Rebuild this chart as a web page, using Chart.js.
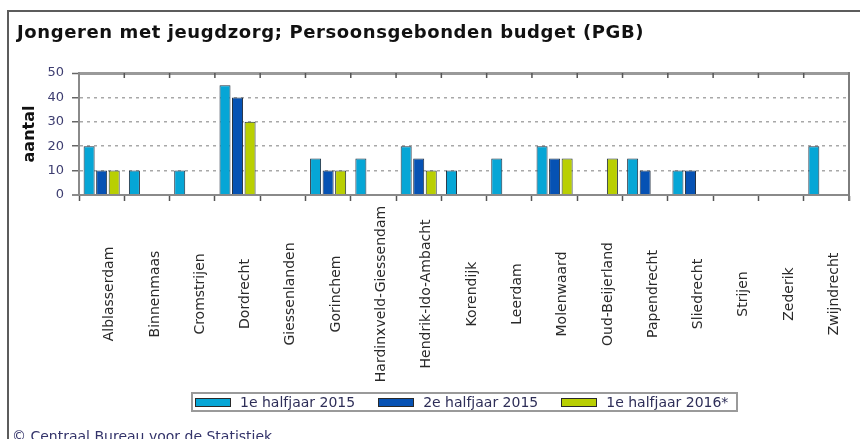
<!DOCTYPE html>
<html lang="nl">
<head>
<meta charset="utf-8">
<title>Jongeren met jeugdzorg; PGB</title>
<script src="https://cdn.jsdelivr.net/npm/chart.js@4/dist/chart.umd.min.js"></script>
<style>
  html, body { margin: 0; padding: 0; background: #fff; }
  body { width: 860px; height: 439px; overflow: hidden; position: relative; font-family: "DejaVu Sans", sans-serif; }
  #c { position: absolute; left: 0; top: 0; }
  .frame { position: absolute; left: 7px; top: 10px; right: -4px; bottom: -4px; border-top: 2px solid #5c5c5c; border-left: 2px solid #5c5c5c; }
  .title { position: absolute; left: 17px; top: 23px; font: bold 18px/18px "DejaVu Sans", sans-serif; letter-spacing: 0.6px; color: #111; white-space: nowrap; }
  .legend { position: absolute; left: 191px; top: 392px; width: 543px; height: 16px; border: 2px solid #9a9a9a; display: flex; align-items: center; box-sizing: content-box; }
  .legend .item { display: flex; align-items: center; margin-left: 2px; margin-right: 21px; }
  .legend .item:last-child { margin-right: 0; }
  .legend .sw { width: 34px; height: 7px; border: 1px solid #2a2a2a; margin-right: 9px; }
  .legend .lbl { font: 14px/16px "DejaVu Sans", sans-serif; color: #2e2e58; white-space: nowrap; }
  .footer { position: absolute; left: 12px; top: 428px; font: 14px/16px "DejaVu Sans", sans-serif; color: #33336a; white-space: nowrap; }
</style>
</head>
<body>
<canvas id="c" width="860" height="439"></canvas>
<div class="frame"></div>
<div class="title">Jongeren met jeugdzorg; Persoonsgebonden budget (PGB)</div>
<div class="legend" id="legend"></div>
<div class="footer">© Centraal Bureau voor de Statistiek.</div>
<script>
  /* ── data ── */
  const categories = [
    'Alblasserdam', 'Binnenmaas', 'Cromstrijen', 'Dordrecht', 'Giessenlanden',
    'Gorinchem', 'Hardinxveld-Giessendam', 'Hendrik-Ido-Ambacht', 'Korendijk',
    'Leerdam', 'Molenwaard', 'Oud-Beijerland', 'Papendrecht', 'Sliedrecht',
    'Strijen', 'Zederik', 'Zwijndrecht'
  ];
  const seriesNames = ['1e halfjaar 2015', '2e halfjaar 2015', '1e halfjaar 2016*'];
  const halfjaar1_2015 = [20, 10, 10, 45, null, 15, 15, 20, 10, 15, 20, null, 15, 10, null, null, 20];
  const halfjaar2_2015 = [10, null, null, 40, null, 10, null, 15, null, null, 15, null, 10, 10, null, null, null];
  const halfjaar1_2016 = [10, null, null, 30, null, 10, null, 10, null, null, 15, 15, null, null, null, null, null];
  const yTicks = [0, 10, 20, 30, 40, 50];

  const seriesColors = ['#06a6d6', '#0652b4', '#b9cf02'];
  const seriesData = [halfjaar1_2015, halfjaar2_2015, halfjaar1_2016];

  /* ── html legend ── */
  const legendEl = document.getElementById('legend');
  seriesNames.forEach((name, i) => {
    const item = document.createElement('div');
    item.className = 'item';
    item.innerHTML = `<span class="sw" style="background:${seriesColors[i]}"></span><span class="lbl">${name}</span>`;
    legendEl.appendChild(item);
  });

  /* ── plugin: rotated category labels, top tick marks, right border ── */
  const extras = {
    id: 'extras',
    afterDraw(chart) {
      const { ctx, chartArea: a, scales: { x } } = chart;
      ctx.save();
      ctx.strokeStyle = '#7d7d7d';
      ctx.lineWidth = 2;
      ctx.beginPath();
      ctx.moveTo(a.right, a.top - 1);
      ctx.lineTo(a.right, a.bottom + 6);
      ctx.stroke();

      const step = (a.right - a.left) / categories.length;
      ctx.strokeStyle = '#555';
      ctx.lineWidth = 1.5;
      ctx.beginPath();
      for (let i = 1; i < categories.length; i++) {
        const px = a.left + i * step;
        ctx.moveTo(px, a.top);
        ctx.lineTo(px, a.top + 5);
      }
      ctx.stroke();

      ctx.font = '14px "DejaVu Sans", sans-serif';
      ctx.fillStyle = '#2a2a2a';
      ctx.textAlign = 'center';
      ctx.textBaseline = 'middle';
      categories.forEach((name, i) => {
        ctx.save();
        ctx.translate(x.getPixelForValue(i) + 8, a.bottom + 99);
        ctx.rotate(-Math.PI / 2);
        ctx.fillText(name, 0, 0);
        ctx.restore();
      });
      ctx.restore();
    }
  };

  new Chart(document.getElementById('c'), {
    type: 'bar',
    data: {
      labels: categories,
      datasets: seriesData.map((d, i) => ({
        label: seriesNames[i],
        data: d,
        backgroundColor: seriesColors[i],
        borderColor: '#233040',
        borderWidth: 1,
        categoryPercentage: 0.83,
        barPercentage: 0.88
      }))
    },
    options: {
      responsive: false,
      animation: false,
      layout: { padding: { left: 17, right: 11, top: 73, bottom: 0 } },
      plugins: {
        legend: { display: false },
        tooltip: { enabled: false }
      },
      scales: {
        x: {
          offset: true,
          ticks: { display: false },
          grid: { offset: true, drawOnChartArea: false, drawTicks: true, tickLength: 6, tickColor: '#555', tickWidth: 1.5 },
          border: { color: '#8a8a8a', width: 2 },
          afterFit: s => { s.height = 244; }
        },
        y: {
          min: 0,
          max: 50,
          afterBuildTicks: s => { s.ticks = yTicks.map(v => ({ value: v })); },
          ticks: {
            color: '#3d3d70',
            font: { size: 13, family: 'DejaVu Sans' },
            padding: 8
          },
          grid: {
            color: ctx => ctx.tick.value === 50 ? '#9a9a9a' : ctx.tick.value === 0 ? '#8a8a8a' : '#a8a8a8',
            lineWidth: ctx => ctx.tick.value === 50 ? 3 : ctx.tick.value === 0 ? 2 : 1.5,
            tickLength: 7,
            tickColor: '#666',
            tickWidth: 1.5
          },
          border: {
            color: '#8a8a8a',
            width: 2,
            dash: ctx => (ctx.tick && ctx.tick.value !== 0 && ctx.tick.value !== 50) ? [3, 4] : []
          },
          title: {
            display: true,
            text: 'aantal',
            color: '#111',
            font: { size: 16, weight: 'bold', family: 'DejaVu Sans' },
            padding: { top: 3, bottom: 0 }
          },
          afterFit: s => { s.width = 62; }
        }
      }
    },
    plugins: [extras]
  });
</script>
</body>
</html>
